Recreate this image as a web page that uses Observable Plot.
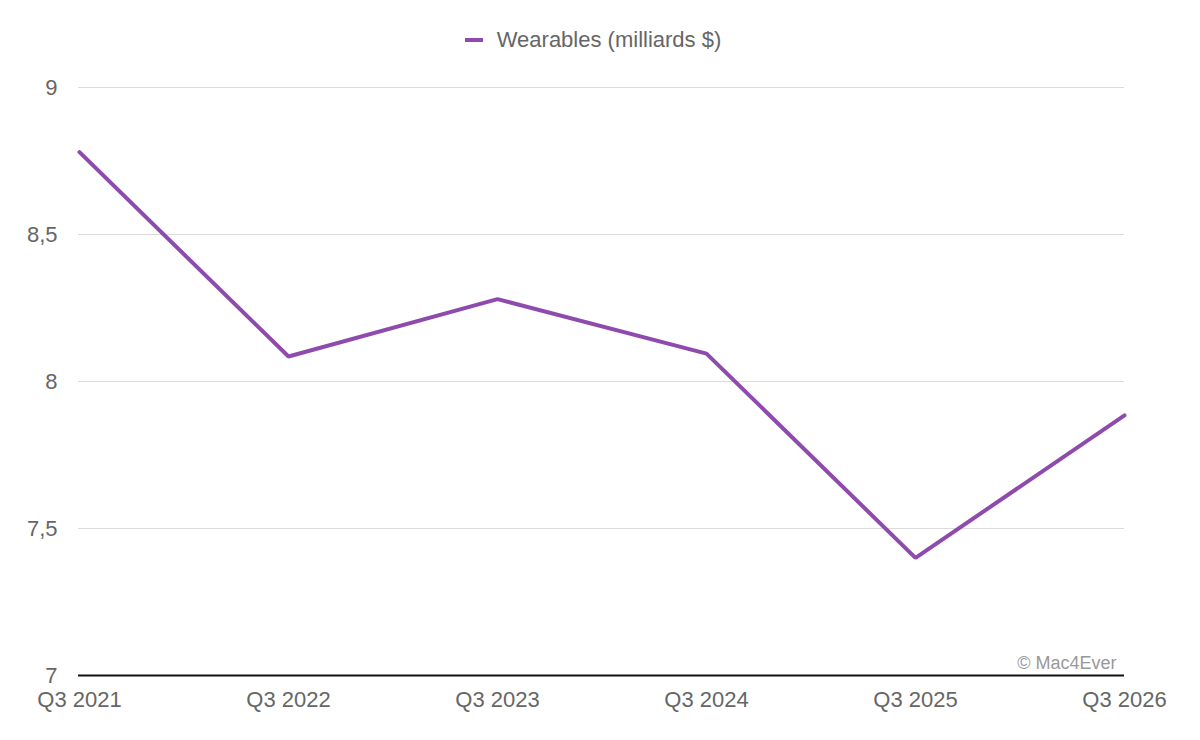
<!DOCTYPE html>
<html>
<head>
<meta charset="utf-8">
<script src="https://cdn.jsdelivr.net/npm/d3@7"></script>
<script src="https://cdn.jsdelivr.net/npm/@observablehq/plot@0.6"></script>
<style>
  html, body { margin: 0; padding: 0; background: #fff; }
  body { width: 1200px; height: 740px; overflow: hidden; font-family: "Liberation Sans", Arial, sans-serif; }
  #legend { height: 70px; box-sizing: border-box; padding-top: 10px; display: flex; align-items: center; justify-content: center; color: #666; font-size: 22px; }
  #legend .sw { display: inline-block; width: 18px; height: 4px; background: #8E4BAD; margin-right: 14px; margin-left: -14px; }
</style>
</head>
<body>
<div id="legend"><span class="sw"></span><span>Wearables (milliards $)</span></div>
<div id="chart"></div>
<script>
const quarters = ["Q3 2021", "Q3 2022", "Q3 2023", "Q3 2024", "Q3 2025", "Q3 2026"];
const wearables = [8.78, 8.085, 8.28, 8.095, 7.40, 7.885];
const yTicks = [7, 7.5, 8, 8.5, 9];
const credit = ["© Mac4Ever"];

const data = quarters.map((q, i) => ({ q, v: wearables[i] }));
const fmt = d => String(d).replace(".", ",");

const chart = Plot.plot({
  width: 1200,
  height: 670,
  marginTop: 17,
  marginBottom: 65,
  marginLeft: 78,
  marginRight: 76,
  style: { fontFamily: "'Liberation Sans', Arial, sans-serif", fontSize: "22px", color: "#666", background: "#fff" },
  x: { type: "point", domain: quarters, padding: 0, label: null, tickSize: 0, tickPadding: 16 },
  y: { domain: [7, 9], ticks: yTicks, tickFormat: fmt, label: null, tickSize: 0, tickPadding: 21 },
  marks: [
    Plot.ruleY(yTicks.filter(t => t !== 7), { stroke: "#dcdcdc", strokeWidth: 1 }),
    Plot.ruleY([7], { stroke: "#111", strokeWidth: 2 }),
    Plot.line(data, { x: "q", y: "v", stroke: "#8E4BAD", strokeWidth: 4, strokeLinejoin: "miter" }),
    Plot.text(credit, { frameAnchor: "bottom-right", dx: -8, dy: -7, fill: "#999", fontSize: 18, text: d => d })
  ]
});
document.getElementById("chart").appendChild(chart);
</script>
</body>
</html>
